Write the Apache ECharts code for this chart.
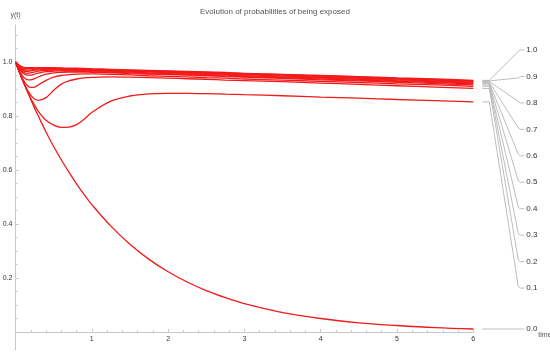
<!DOCTYPE html>
<html><head><meta charset="utf-8">
<script src="https://cdn.jsdelivr.net/npm/echarts@6/dist/echarts.min.js"></script>
<style>html,body{margin:0;padding:0;background:#fff}#c{width:550px;height:356px}</style>
</head><body><div id="c"></div>
<script>
// time grid
const times = [0, 0.05, 0.1, 0.15, 0.2, 0.25, 0.3, 0.4, 0.5, 0.6, 0.7, 0.8, 0.9, 1.0, 1.25, 1.5, 1.75, 2, 2.25, 2.5, 2.75, 3, 3.5, 4, 4.5, 5, 5.5, 6];
// parameter labels (right side)
const paramLabels = ['0.0','0.1','0.2','0.3','0.4','0.5','0.6','0.7','0.8','0.9','1.0'];
// series values y(t) for each parameter
const y00 = [1, 0.963, 0.928, 0.894, 0.861, 0.829, 0.799, 0.741, 0.687, 0.638, 0.592, 0.549, 0.509, 0.472, 0.392, 0.325, 0.269, 0.223, 0.185, 0.153, 0.127, 0.105, 0.072, 0.050, 0.034, 0.024, 0.016, 0.011];
const y01 = [1, 0.963, 0.928, 0.896, 0.866, 0.840, 0.817, 0.784, 0.766, 0.758, 0.759, 0.768, 0.788, 0.813, 0.855, 0.874, 0.882, 0.884, 0.884, 0.883, 0.881, 0.879, 0.875, 0.870, 0.866, 0.861, 0.857, 0.852];
const y02 = [1, 0.963, 0.929, 0.899, 0.877, 0.863, 0.858, 0.868, 0.895, 0.918, 0.930, 0.937, 0.941, 0.943, 0.945, 0.944, 0.942, 0.940, 0.938, 0.936, 0.933, 0.931, 0.927, 0.922, 0.917, 0.912, 0.907, 0.902];
const y03 = [1, 0.965, 0.935, 0.914, 0.906, 0.907, 0.915, 0.932, 0.944, 0.950, 0.953, 0.955, 0.956, 0.956, 0.954, 0.952, 0.949, 0.947, 0.945, 0.942, 0.940, 0.937, 0.933, 0.928, 0.924, 0.919, 0.915, 0.910];
const y04 = [1, 0.968, 0.946, 0.935, 0.934, 0.938, 0.945, 0.955, 0.960, 0.962, 0.963, 0.963, 0.963, 0.962, 0.960, 0.957, 0.955, 0.953, 0.951, 0.949, 0.946, 0.944, 0.939, 0.934, 0.930, 0.925, 0.920, 0.915];
const y05 = [1, 0.974, 0.958, 0.951, 0.951, 0.955, 0.959, 0.964, 0.966, 0.967, 0.966, 0.966, 0.965, 0.964, 0.962, 0.960, 0.957, 0.955, 0.953, 0.951, 0.948, 0.946, 0.942, 0.937, 0.933, 0.928, 0.924, 0.919];
const y06 = [1, 0.977, 0.963, 0.958, 0.960, 0.963, 0.966, 0.969, 0.970, 0.970, 0.969, 0.968, 0.968, 0.967, 0.965, 0.963, 0.960, 0.958, 0.956, 0.954, 0.951, 0.949, 0.945, 0.940, 0.936, 0.931, 0.927, 0.922];
const y07 = [1, 0.980, 0.968, 0.965, 0.967, 0.970, 0.971, 0.973, 0.973, 0.972, 0.971, 0.971, 0.970, 0.969, 0.967, 0.965, 0.963, 0.961, 0.959, 0.957, 0.954, 0.952, 0.948, 0.943, 0.939, 0.934, 0.930, 0.925];
const y08 = [1, 0.982, 0.972, 0.970, 0.971, 0.973, 0.974, 0.975, 0.975, 0.974, 0.973, 0.973, 0.972, 0.971, 0.969, 0.967, 0.965, 0.963, 0.961, 0.959, 0.957, 0.955, 0.951, 0.946, 0.942, 0.937, 0.933, 0.928];
const y09 = [1, 0.985, 0.976, 0.975, 0.976, 0.977, 0.977, 0.977, 0.977, 0.976, 0.975, 0.975, 0.974, 0.973, 0.971, 0.969, 0.967, 0.965, 0.963, 0.961, 0.959, 0.957, 0.953, 0.948, 0.944, 0.939, 0.935, 0.930];
const y10 = [1, 0.988, 0.981, 0.979, 0.979, 0.979, 0.979, 0.979, 0.979, 0.978, 0.977, 0.977, 0.976, 0.975, 0.973, 0.971, 0.969, 0.967, 0.965, 0.963, 0.961, 0.958, 0.954, 0.950, 0.946, 0.941, 0.937, 0.932];
// axis tick labels
const xTickLabels = [1, 2, 3, 4, 5, 6];
const yTickLabels = [0.2, 0.4, 0.6, 0.8, 1.0];
const titleText = 'Evolution of probabilities of being exposed';

const allSeries = [y00, y01, y02, y03, y04, y05, y06, y07, y08, y09, y10];
const yMinor = [];
for (let k = 1; k <= 22; k++) yMinor.push(+(k * 0.05).toFixed(2));

const chart = echarts.init(document.getElementById('c'), null, {renderer: 'canvas'});
const FONT = 'Liberation Sans, Arial, sans-serif';
const AX = '#c8c8c8';

const lineSeries = allSeries.map((arr, i) => ({
  type: 'line', name: paramLabels[i],
  data: arr.map((v, j) => [times[j], v]),
  showSymbol: false, smooth: 0.35,
  lineStyle: {color: '#f21a1a', width: 1.3},
  itemStyle: {color: '#f21a1a'},
  silent: true, z: 3
}));

const leaderData = allSeries.map((arr, i) => [times[times.length - 1], arr[arr.length - 1], i]);

const leaderSeries = {
  type: 'custom', coordinateSystem: 'cartesian2d', clip: false, silent: true, z: 4,
  data: leaderData,
  renderItem: function (params, api) {
    const i = api.value(2);
    const p = api.coord([api.value(0), api.value(1)]);
    const top = params.coordSys.y;
    const ly = (i === 0) ? p[1] : top + 25 + (10 - i) * 26.45;
    const x0 = p[0] + 9, x1 = p[0] + 16, x2 = p[0] + 45, x3 = p[0] + 51;
    return {
      type: 'group', children: [
        {type: 'polyline', shape: {points: [[x0, p[1]], [x1, p[1]], [x2, ly + (ly > p[1] ? -1.5 : (ly < p[1] ? 1.5 : 0))], [x2 + 2, ly], [x3, ly]]},
          style: {stroke: '#b5b5b5', fill: null, lineWidth: 0.9}},
        {type: 'text', x: x3 + 2, y: ly, style: {text: paramLabels[i], fill: '#333', font: '8px ' + FONT, verticalAlign: 'middle', align: 'left'}}
      ]
    };
  }
};

chart.setOption({
  animation: false,
  backgroundColor: '#fff',
  title: {text: titleText, left: 195, top: 3, textStyle: {fontSize: 8, fontWeight: 'normal', color: '#555', fontFamily: FONT}},
  grid: {left: 15.5, right: 76.7, top: 25, bottom: 6, containLabel: false, outerBoundsMode: 'none'},
  xAxis: {
    type: 'value', min: 0, max: 6, interval: 1,
    name: 'time', nameLocation: 'end', nameGap: 65,
    nameTextStyle: {fontSize: 7, color: '#555', fontFamily: FONT, verticalAlign: 'top', padding: [0, 0, 0, 0]},
    axisLine: {show: true, onZero: true, lineStyle: {color: AX, width: 1}},
    axisTick: {show: true, inside: true, length: 3, lineStyle: {color: AX}, customValues: xTickLabels},
    minorTick: {show: true, splitNumber: 5, length: 2, lineStyle: {color: AX}},
    axisLabel: {customValues: xTickLabels, fontSize: 7, color: '#333', fontFamily: FONT, margin: -14},
    splitLine: {show: false}, minorSplitLine: {show: false}
  },
  yAxis: [{
    type: 'value', min: -0.0667, max: 1.137,
    name: 'y(t)', nameLocation: 'end', nameGap: 6,
    nameTextStyle: {fontSize: 7, color: '#555', fontFamily: FONT, align: 'center'},
    axisLine: {show: true, onZero: true, lineStyle: {color: AX, width: 1}},
    axisTick: {show: true, inside: true, length: 3, lineStyle: {color: AX}, customValues: yTickLabels},
    axisLabel: {customValues: yTickLabels, fontSize: 7, color: '#333', fontFamily: FONT, margin: 3,
      formatter: v => v.toFixed(1)},
    splitLine: {show: false}
  }, {
    type: 'value', min: -0.0667, max: 1.137, position: 'left',
    axisLine: {show: false},
    axisTick: {show: true, inside: true, length: 2, lineStyle: {color: AX}, customValues: yMinor},
    axisLabel: {show: false}, splitLine: {show: false}
  }],
  series: lineSeries.concat([leaderSeries])
});
</script>
</body></html>
